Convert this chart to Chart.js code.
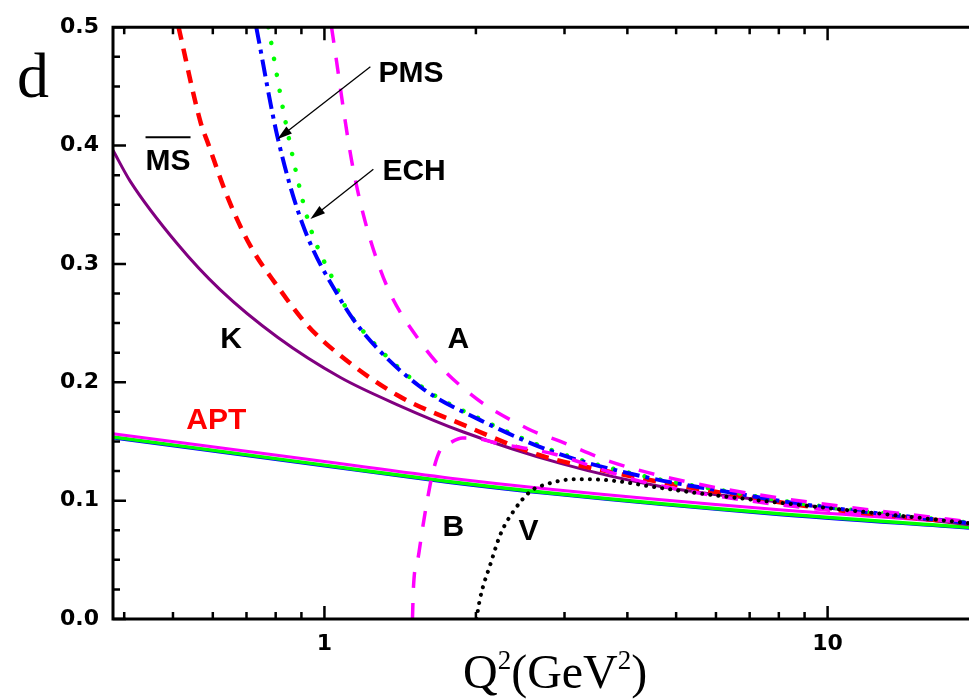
<!DOCTYPE html>
<html>
<head>
<meta charset="utf-8">
<script src="https://cdn.jsdelivr.net/npm/chart.js@4/dist/chart.umd.min.js"></script>
<style>
  html, body { margin: 0; padding: 0; background: #fff; }
  canvas { display: block; }
</style>
</head>
<body>
<canvas id="c" width="969" height="699"></canvas>
<script>
// d(Q^2) for the different schemes (log Q^2 axis)
const msX = [0.38, 0.411, 0.51, 0.621, 0.807, 1.076, 1.397, 1.889, 2.945, 4.66, 7.7, 19.1];
const msY = [0.396, 0.370, 0.317, 0.278, 0.238, 0.204, 0.181, 0.158, 0.1315, 0.112, 0.0997, 0.0796];

const redX = [0.513, 0.567, 0.588, 0.641, 0.713, 0.807, 0.917, 1.018, 1.397, 1.889, 2.65, 3.82, 5.59, 10, 19.1];
const redY = [0.5, 0.420, 0.401, 0.357, 0.315, 0.281, 0.250, 0.231, 0.189, 0.164, 0.139, 0.123, 0.1097, 0.093, 0.081];

const pmsX = [0.732, 0.807, 0.904, 1.076, 1.195, 1.552, 2.04, 2.945, 4.45, 6.21, 8.56, 19.1];
const pmsY = [0.5, 0.407, 0.334, 0.270, 0.242, 0.196, 0.168, 0.139, 0.119, 0.108, 0.098, 0.081];

const echX = [0.774, 0.837, 0.929, 1.061, 1.10, 1.195, 1.552, 2.04, 2.945, 4.45, 6.21, 8.56, 19.1];
const echY = [0.5, 0.420, 0.336, 0.279, 0.264, 0.243, 0.197, 0.169, 0.140, 0.1195, 0.1085, 0.0985, 0.0813];

const aX = [1.033, 1.142, 1.292, 1.552, 1.925, 2.53, 2.945, 3.70, 4.88, 7.03, 19.1];
const aY = [0.5, 0.379, 0.295, 0.234, 0.192, 0.161, 0.150, 0.133, 0.119, 0.106, 0.082];

const bX = [1.496, 1.503, 1.537, 1.566, 1.602, 1.64, 1.70, 1.78, 1.88, 2.04, 2.23, 2.53, 2.88, 3.27, 4.11, 6.0, 10, 19.1];
const bY = [0, 0.027, 0.053, 0.076, 0.101, 0.123, 0.143, 0.149, 0.153, 0.152, 0.148, 0.144, 0.139, 0.1315, 0.118, 0.104, 0.092, 0.0815];

const vX = [2.005, 2.04, 2.14, 2.24, 2.375, 2.57, 2.77, 3.13, 3.38, 3.82, 4.45, 5.59, 7.47, 19.1];
const vY = [0, 0.018, 0.047, 0.072, 0.091, 0.108, 0.114, 0.118, 0.118, 0.1164, 0.112, 0.106, 0.0997, 0.081];

// APT: three nearly coincident curves
const aptX = [0.38, 1, 1.78, 2.81, 7.7, 19.1];
const aptMagY = [0.1566, 0.133, 0.119, 0.1097, 0.093, 0.0812];
const aptGrnY = [0.1538, 0.130, 0.116, 0.1065, 0.0895, 0.0775];
const aptBluY = [0.1528, 0.129, 0.115, 0.1055, 0.0885, 0.0765];

// axes
const xRange = [0.38, 19.1];
const yRange = [0, 0.5];
const xMajor = [1, 10];
const xMinor = [0.4, 0.5, 0.6, 0.7, 0.8, 0.9, 2, 3, 4, 5, 6, 7, 8, 9];
const yMajor = [0, 0.1, 0.2, 0.3, 0.4, 0.5];
const yMinor = [0.025, 0.05, 0.075, 0.125, 0.15, 0.175, 0.225, 0.25, 0.275, 0.325, 0.35, 0.375, 0.425, 0.45, 0.475];

const pts = (xs, ys) => xs.map((x, i) => ({ x, y: ys[i] }));

function ds(xs, ys, color, width, dash, cap, order) {
  return {
    data: pts(xs, ys),
    borderColor: color,
    borderWidth: width,
    borderDash: dash,
    borderCapStyle: cap,
    cubicInterpolationMode: "monotone",
    pointRadius: 0,
    fill: false,
    clip: 0,
    order,
  };
}

const TICK_FONT = { family: "'DejaVu Sans', sans-serif", size: 22, weight: "bold" };
const LBL_FONT = "bold 30px 'Liberation Sans', Arial, sans-serif";

// labels, inward ticks, frame and arrows
const decor = {
  id: "decor",
  afterDraw(chart) {
    const g = chart.ctx;
    const { left, right, top, bottom } = chart.chartArea;
    const xs = chart.scales.x, ys = chart.scales.y;
    const px = (v) => xs.getPixelForValue(v);
    const py = (v) => ys.getPixelForValue(v);
    g.save();
    g.strokeStyle = "#000";
    g.lineCap = "butt";

    // frame: left, bottom, top (right side is cut off in the original)
    g.lineWidth = 3;
    g.beginPath();
    g.moveTo(right, top); g.lineTo(left, top); g.lineTo(left, bottom); g.lineTo(right, bottom);
    g.stroke();

    g.lineWidth = 2.5;
    g.beginPath();
    for (const v of yMajor) { g.moveTo(left, py(v)); g.lineTo(left + 13, py(v)); }
    for (const v of yMinor) { g.moveTo(left, py(v)); g.lineTo(left + 7, py(v)); }
    for (const v of xMajor) {
      g.moveTo(px(v), bottom); g.lineTo(px(v), bottom - 13);
      g.moveTo(px(v), top); g.lineTo(px(v), top + 13);
    }
    for (const v of xMinor) {
      g.moveTo(px(v), bottom); g.lineTo(px(v), bottom - 7);
      g.moveTo(px(v), top); g.lineTo(px(v), top + 7);
    }
    g.stroke();

    // curve labels
    g.textAlign = "left";
    g.textBaseline = "alphabetic";
    g.font = LBL_FONT;
    const text = (s, x, y, color) => { g.fillStyle = color || "#000"; g.fillText(s, px(x), py(y)); };
    text("PMS", 1.28, 0.454);
    text("ECH", 1.304, 0.371);
    text("K", 0.621, 0.2286);
    text("A", 1.756, 0.2286);
    text("APT", 0.5316, 0.1608, "#ff0000");
    text("B", 1.717, 0.0704);
    text("V", 2.43, 0.067);
    text("MS", 0.441, 0.3794);
    const msW = g.measureText("MS").width;
    g.lineWidth = 2;
    g.beginPath();
    g.moveTo(px(0.441), py(0.407)); g.lineTo(px(0.441) + msW, py(0.407));
    g.stroke();

    // arrows
    const arrow = (x0, y0, x1, y1) => {
      const ax = px(x0), ay = py(y0), bx = px(x1), by = py(y1);
      const ang = Math.atan2(by - ay, bx - ax);
      const hl = 15, hw = 4.5;
      g.lineWidth = 1.3;
      g.beginPath();
      g.moveTo(ax, ay);
      g.lineTo(bx - Math.cos(ang) * hl * 0.8, by - Math.sin(ang) * hl * 0.8);
      g.stroke();
      g.fillStyle = "#000";
      g.beginPath();
      g.moveTo(bx, by);
      g.lineTo(bx - Math.cos(ang) * hl - Math.sin(ang) * hw, by - Math.sin(ang) * hl + Math.cos(ang) * hw);
      g.lineTo(bx - Math.cos(ang) * hl + Math.sin(ang) * hw, by - Math.sin(ang) * hl - Math.cos(ang) * hw);
      g.closePath();
      g.fill();
    };
    arrow(1.234, 0.4665, 0.806, 0.4054);
    arrow(1.251, 0.380, 0.938, 0.338);

    // axis titles
    g.fillStyle = "#000";
    g.font = "64px 'Liberation Serif', 'Times New Roman', serif";
    g.fillText("d", left - 96, top + 70);

    const big = "48px 'Liberation Serif', 'Times New Roman', serif";
    const sup = "27px 'Liberation Serif', 'Times New Roman', serif";
    let cx = left + 350;
    const base = bottom + 69;
    const part = (s, f, dy) => { g.font = f; g.fillText(s, cx, base + dy); cx += g.measureText(s).width; };
    part("Q", big, 0);
    part("2", sup, -19);
    part("(GeV", big, 0);
    part("2", sup, -19);
    part(")", big, 0);
    g.restore();
  },
};

new Chart(document.getElementById("c"), {
  type: "line",
  data: {
    datasets: [
      ds(vX, vY, "#000000", 4, [0.1, 8], "round", 0),
      ds(aX, aY, "#ff00ff", 3.5, [16, 15], "butt", 1),
      ds(bX, bY, "#ff00ff", 3.5, [16, 15], "butt", 2),
      ds(pmsX, pmsY, "#0000ff", 4, [17, 6, 4, 6], "butt", 3),
      ds(echX, echY, "#00ff00", 4.5, [0.1, 16], "round", 4),
      ds(redX, redY, "#ff0000", 4.5, [13, 9], "butt", 5),
      ds(msX, msY, "#800080", 3, [], "butt", 6),
      ds(aptX, aptMagY, "#ff00ff", 3, [], "butt", 7),
      ds(aptX, aptGrnY, "#00ff00", 3.5, [], "butt", 8),
      ds(aptX, aptBluY, "#0000ff", 2.5, [], "butt", 9),
    ],
  },
  options: {
    responsive: false,
    animation: false,
    events: [],
    layout: { padding: { top: 22, right: 0, left: 0, bottom: 0 } },
    plugins: { legend: { display: false }, tooltip: { enabled: false } },
    scales: {
      x: {
        type: "logarithmic",
        min: xRange[0],
        max: xRange[1],
        grid: { display: false, drawTicks: false },
        border: { display: false },
        ticks: {
          autoSkip: false,
          maxRotation: 0,
          color: "#000",
          font: TICK_FONT,
          padding: 12,
          callback: (v) => (xMajor.some((m) => Math.abs(m - v) < 1e-9) ? String(v) : ""),
        },
        // the plot runs right up to the canvas edge
        afterFit: (s) => { s.height = 80; s.paddingRight = 0; s.paddingLeft = 0; },
      },
      y: {
        min: yRange[0],
        max: yRange[1],
        grid: { display: false, drawTicks: false },
        border: { display: false },
        ticks: {
          stepSize: 0.1,
          color: "#000",
          font: TICK_FONT,
          padding: 14,
          callback: (v) => v.toFixed(1),
        },
        afterFit: (s) => { s.width = 113; },
      },
    },
  },
  plugins: [decor],
});
</script>
</body>
</html>
